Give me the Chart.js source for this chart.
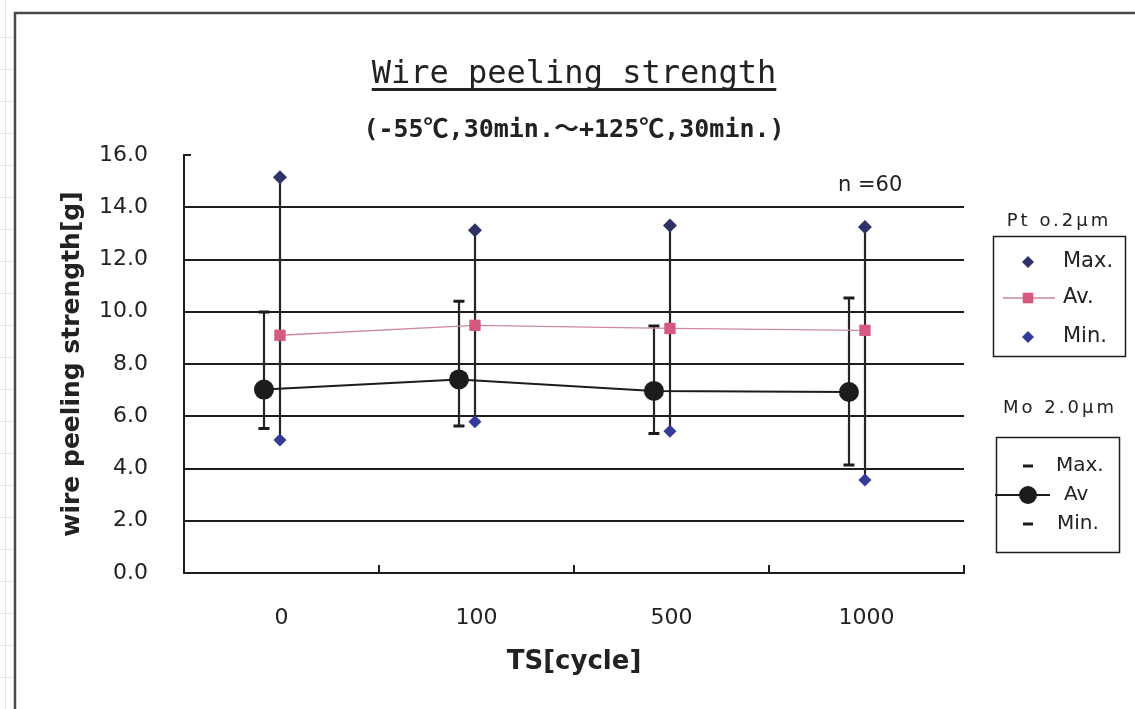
<!DOCTYPE html>
<html>
<head>
<meta charset="utf-8">
<title>Wire peeling strength</title>
<script src="https://cdn.jsdelivr.net/npm/chart.js@4/dist/chart.umd.min.js"></script>
<style>
  html, body { margin: 0; padding: 0; background: #ffffff; }
  #wrap { width: 1135px; height: 709px; position: relative; }
  canvas { display: block; }
</style>
</head>
<body>
<div id="wrap"><canvas id="chart" width="1135" height="709"></canvas></div>
<script>
// ---- data ----
const categories = ['0', '100', '500', '1000'];

// Pt 0.2 µm plating
const ptMax = [15.15, 13.12, 13.30, 13.24];
const ptAv  = [9.10, 9.48, 9.36, 9.29];
const ptMin = [5.09, 5.79, 5.43, 3.56];

// Mo 2.0 µm plating
const moMax = [9.99, 10.40, 9.45, 10.53];
const moAv  = [7.02, 7.41, 6.97, 6.93];
const moMin = [5.53, 5.63, 5.34, 4.13];

const yMin = 0, yMax = 16, yStep = 2;

const chartTitle = 'Wire peeling strength';
const chartSubtitle = '(-55℃,30min.～+125℃,30min.)';
const sampleNote = 'n =60';
const yTitle = 'wire peeling strength[g]';
const xTitle = 'TS[cycle]';
const ptGroupName = 'Pt o.2μm';
const moGroupName = 'Mo 2.0μm';
const entryMax = 'Max.';
const entryAvPt = 'Av.';
const entryAvMo = 'Av';
const entryMin = 'Min.';

// ---- styles ----
const INK = '#1e1e1e';
const PT_MAX_COLOR = '#2e3266';
const PT_MIN_COLOR = '#333a99';
const PT_AV_MARK = '#d45a80';
const PT_AV_LINE = '#cc8a9a';
const MO_COLOR = '#1c1c1c';
const SANS = "'DejaVu Sans', 'Noto Sans CJK JP', sans-serif";
const MONO = "'DejaVu Sans Mono', 'Noto Sans CJK JP', monospace";

Chart.defaults.font.family = SANS;
Chart.defaults.color = '#222';

// Horizontal shift of a series inside its category (fraction of category width)
const shiftPlugin = {
  id: 'seriesShift',
  afterDatasetsUpdate(chart) {
    const xs = chart.scales.x;
    const catW = xs.getPixelForValue(1) - xs.getPixelForValue(0);
    chart.data.datasets.forEach((ds, i) => {
      const f = ds.shiftFraction || 0;
      if (!f) return;
      const meta = chart.getDatasetMeta(i);
      meta.data.forEach(el => { el.x += f * catW; });
      if (meta.dataset) { delete meta.dataset._path; }
    });
  }
};

// High-low lines joining each Max point to its Min point
const highLowPlugin = {
  id: 'highLow',
  beforeDatasetsDraw(chart) {
    const ctx = chart.ctx;
    const pairs = chart.data.datasets
      .map((ds, i) => ({ ds, i }))
      .filter(o => o.ds.highLowTo !== undefined);
    ctx.save();
    ctx.strokeStyle = '#262626';
    ctx.lineWidth = 2.2;
    pairs.forEach(({ ds, i }) => {
      const top = chart.getDatasetMeta(i).data;
      const bot = chart.getDatasetMeta(ds.highLowTo).data;
      top.forEach((p, k) => {
        ctx.beginPath();
        ctx.moveTo(Math.round(p.x), p.y);
        ctx.lineTo(Math.round(p.x), bot[k].y);
        ctx.stroke();
      });
    });
    ctx.restore();
  }
};

// Frame, titles, tick marks, note and the two legend boxes
const decorPlugin = {
  id: 'decor',
  beforeDraw(chart) {
    const ctx = chart.ctx;
    ctx.save();
    ctx.fillStyle = '#ffffff';
    ctx.fillRect(0, 0, chart.width, chart.height);
    // faint sheet lines around the chart object
    ctx.strokeStyle = '#e4e4e4';
    ctx.lineWidth = 1;
    ctx.beginPath();
    ctx.moveTo(5.5, 0); ctx.lineTo(5.5, chart.height);
    for (let y = 37; y < chart.height; y += 32) { ctx.moveTo(0, y + 0.5); ctx.lineTo(14, y + 0.5); }
    ctx.stroke();
    // chart frame
    ctx.strokeStyle = '#4a4a4a';
    ctx.lineWidth = 2.5;
    ctx.beginPath();
    ctx.moveTo(15, chart.height);
    ctx.lineTo(15, 13);
    ctx.lineTo(chart.width, 13);
    ctx.stroke();
    ctx.restore();
  },
  afterDraw(chart) {
    const ctx = chart.ctx;
    const area = chart.chartArea;
    const xs = chart.scales.x, ys = chart.scales.y;
    ctx.save();

    // title with underline
    ctx.fillStyle = '#222';
    ctx.textAlign = 'center';
    ctx.textBaseline = 'alphabetic';
    ctx.font = '32px ' + MONO;
    const cx = (area.left + area.right) / 2;
    ctx.fillText(chartTitle, cx, 83);
    const tw = ctx.measureText(chartTitle).width;
    ctx.fillRect(cx - tw / 2, 88, tw, 3);

    // subtitle
    ctx.font = 'bold 25px ' + MONO;
    ctx.fillText(chartSubtitle, cx, 137);

    // sample count
    ctx.font = '21px ' + SANS;
    ctx.textAlign = 'left';
    ctx.fillText(sampleNote, 838, 191);

    // tick marks between categories, pointing into the plot
    ctx.strokeStyle = INK;
    ctx.lineWidth = 2;
    const catW = xs.getPixelForValue(1) - xs.getPixelForValue(0);
    ctx.beginPath();
    for (let k = 0; k <= categories.length; k++) {
      const x = Math.round(xs.getPixelForValue(0) - catW / 2 + k * catW);
      ctx.moveTo(x, area.bottom);
      ctx.lineTo(x, area.bottom - 8);
    }
    // short tick at the top of the value axis
    const yTop = ys.getPixelForValue(yMax);
    ctx.moveTo(area.left, yTop);
    ctx.lineTo(area.left + 7, yTop);
    ctx.stroke();

    const H = Chart.helpers;

    // legend group headings
    ctx.font = '18px ' + SANS;
    ctx.textAlign = 'center';
    ctx.textBaseline = 'middle';
    ctx.fillStyle = '#222';
    if ('letterSpacing' in ctx) ctx.letterSpacing = '3px';
    ctx.fillText(ptGroupName, 1059, 221);
    ctx.fillText(moGroupName, 1060, 408);
    if ('letterSpacing' in ctx) ctx.letterSpacing = '0px';

    // legend: Pt
    ctx.strokeStyle = INK;
    ctx.lineWidth = 1.5;
    ctx.strokeRect(993.5, 236.5, 132, 120);

    ctx.font = '21px ' + SANS;
    ctx.textAlign = 'left';
    ctx.fillText(entryMax, 1063, 262);
    ctx.fillText(entryAvPt, 1063, 298);
    ctx.fillText(entryMin, 1063, 337);

    ctx.fillStyle = PT_MAX_COLOR;
    H.drawPoint(ctx, { pointStyle: 'rectRot', radius: 6, rotation: 0, borderWidth: 0 }, 1028, 262);
    ctx.strokeStyle = PT_AV_LINE;
    ctx.lineWidth = 1.5;
    ctx.beginPath(); ctx.moveTo(1003, 298); ctx.lineTo(1055, 298); ctx.stroke();
    ctx.fillStyle = PT_AV_MARK;
    H.drawPoint(ctx, { pointStyle: 'rect', radius: 7.5, rotation: 0, borderWidth: 0 }, 1028, 298);
    ctx.fillStyle = PT_MIN_COLOR;
    H.drawPoint(ctx, { pointStyle: 'rectRot', radius: 6, rotation: 0, borderWidth: 0 }, 1028, 337);

    // legend: Mo
    ctx.fillStyle = '#222';
    ctx.strokeStyle = INK;
    ctx.lineWidth = 1.5;
    ctx.strokeRect(996.5, 437.5, 123, 115);

    ctx.font = '20px ' + SANS;
    ctx.textAlign = 'left';
    ctx.fillText(entryMax, 1056, 466);
    ctx.fillText(entryAvMo, 1064, 495);
    ctx.fillText(entryMin, 1057, 524);

    ctx.strokeStyle = MO_COLOR;
    ctx.lineWidth = 3;
    H.drawPoint(ctx, { pointStyle: 'line', radius: 5, rotation: 0, borderWidth: 3 }, 1028, 466);
    H.drawPoint(ctx, { pointStyle: 'line', radius: 5, rotation: 0, borderWidth: 3 }, 1028, 524);
    ctx.lineWidth = 2;
    ctx.beginPath(); ctx.moveTo(995, 495); ctx.lineTo(1050, 495); ctx.stroke();
    ctx.fillStyle = MO_COLOR;
    H.drawPoint(ctx, { pointStyle: 'circle', radius: 9, rotation: 0, borderWidth: 0 }, 1028, 495);

    ctx.restore();
  }
};

const PLOT = { left: 184, right: 964, top: 155, bottom: 573 };

new Chart(document.getElementById('chart'), {
  type: 'line',
  data: {
    labels: categories,
    datasets: [
      {
        label: 'Pt Av.', data: ptAv, shiftFraction: -0.008,
        borderColor: PT_AV_LINE, borderWidth: 1.3,
        pointStyle: 'rect', pointRadius: 8, pointBackgroundColor: PT_AV_MARK,
        pointBorderWidth: 0, tension: 0
      },
      {
        label: 'Pt Max.', data: ptMax, shiftFraction: -0.008, showLine: false, highLowTo: 2,
        pointStyle: 'rectRot', pointRadius: 7, pointBackgroundColor: PT_MAX_COLOR, pointBorderWidth: 0
      },
      {
        label: 'Pt Min.', data: ptMin, shiftFraction: -0.008, showLine: false,
        pointStyle: 'rectRot', pointRadius: 6.5, pointBackgroundColor: PT_MIN_COLOR, pointBorderWidth: 0
      },
      {
        label: 'Mo Av', data: moAv, shiftFraction: -0.09,
        borderColor: MO_COLOR, borderWidth: 2,
        pointStyle: 'circle', pointRadius: 10, pointBackgroundColor: MO_COLOR,
        pointBorderWidth: 0, tension: 0
      },
      {
        label: 'Mo Max.', data: moMax, shiftFraction: -0.09, showLine: false, highLowTo: 5,
        pointStyle: 'line', pointRadius: 5.5, pointBorderColor: MO_COLOR, pointBorderWidth: 3
      },
      {
        label: 'Mo Min.', data: moMin, shiftFraction: -0.09, showLine: false,
        pointStyle: 'line', pointRadius: 5.5, pointBorderColor: MO_COLOR, pointBorderWidth: 3
      }
    ]
  },
  options: {
    responsive: false,
    animation: false,
    events: [],
    devicePixelRatio: 1,
    layout: { padding: { left: 0, top: PLOT.top, right: 1135 - PLOT.right, bottom: 0 } },
    plugins: {
      legend: { display: false },
      tooltip: { enabled: false },
      title: { display: false }
    },
    scales: {
      x: {
        type: 'category',
        offset: true,
        grid: { display: false },
        border: { display: true, color: INK, width: 2 },
        ticks: { font: { size: 22 }, color: '#222', padding: 24, maxRotation: 0, autoSkip: false },
        title: {
          display: true, text: xTitle, color: '#222',
          font: { size: 26, weight: 'bold' }, padding: { top: 0, bottom: 31 }
        },
        afterFit(scale) { scale.height = 709 - PLOT.bottom; }
      },
      y: {
        min: yMin, max: yMax,
        grid: {
          drawTicks: false, lineWidth: 2,
          color: (c) => (c.tick && (c.tick.value === yMin || c.tick.value === yMax)) ? 'rgba(0,0,0,0)' : INK
        },
        border: { display: true, color: INK, width: 2 },
        ticks: {
          stepSize: yStep, padding: 36, color: '#222', font: { size: 22 },
          callback: (v) => Number(v).toFixed(1)
        },
        title: {
          display: true, text: yTitle, color: '#222',
          font: { size: 25, weight: 'bold' }, padding: { top: 57, bottom: 0 }
        },
        afterFit(scale) { scale.width = PLOT.left; }
      }
    }
  },
  plugins: [shiftPlugin, highLowPlugin, decorPlugin]
});
</script>
</body>
</html>
